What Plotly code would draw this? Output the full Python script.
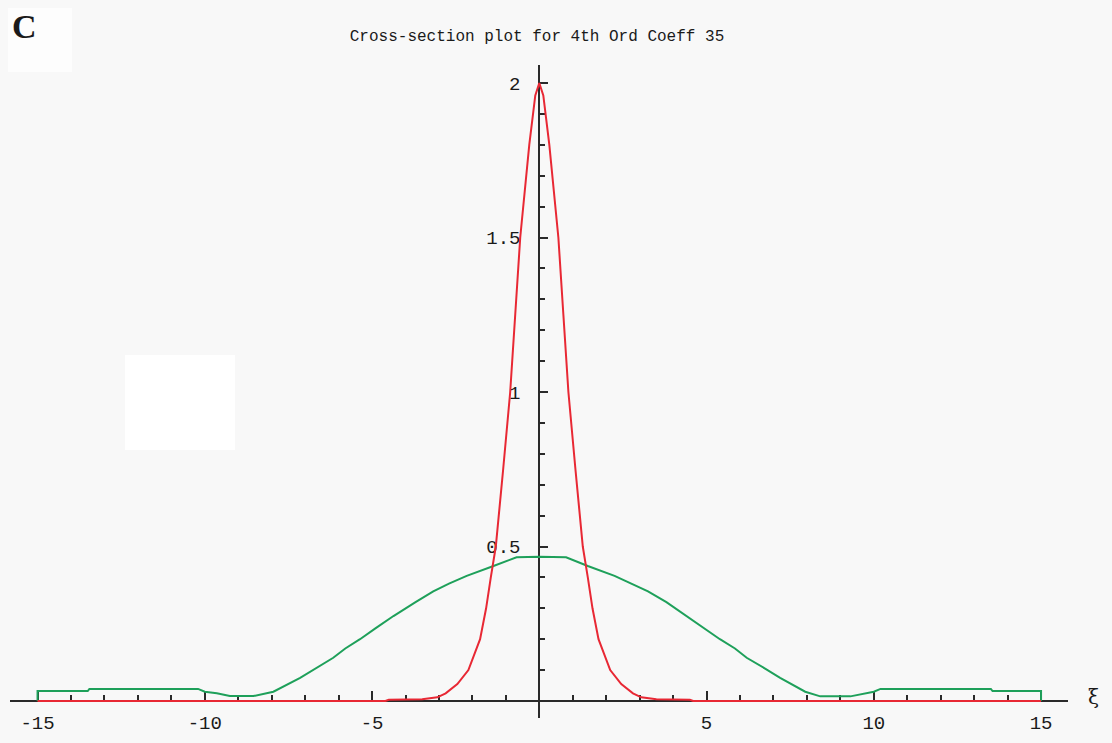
import plotly.graph_objects as go

W, H = 1112, 743

# ---- data ----
red_x = [-15, -4.6, -4.5, -3.5, -3.05, -2.8, -2.45, -2.12, -1.77, -1.59, -1.45, -1.3, -1.08,
         -0.87, -0.72, -0.57, -0.3, -0.12, 0, 0.12, 0.3, 0.57, 0.72, 0.87, 1.08, 1.3, 1.45,
         1.59, 1.77, 2.12, 2.45, 2.8, 3.05, 3.5, 4.5, 4.6, 15]
red_y = [0, 0, 0.004, 0.006, 0.012, 0.025, 0.055, 0.1, 0.2, 0.3, 0.4, 0.5, 0.75,
         1.0, 1.25, 1.5, 1.8, 1.96, 2.0, 1.96, 1.8, 1.5, 1.25, 1.0, 0.75, 0.5, 0.4,
         0.3, 0.2, 0.1, 0.055, 0.025, 0.012, 0.006, 0.004, 0, 0]

green_x = [-15, -15, -13.5, -13.45, -10.2, -10.0, -9.64, -9.25, -8.55, -7.95, -7.15, -6.7,
           -6.16, -5.8, -5.36, -4.9, -4.36, -3.7, -3.17, -2.7, -2.17, -1.37, -0.68, 0,
           0.8, 1.45, 2.25, 2.75, 3.25, 3.8, 4.4, 4.95, 5.4, 5.85, 6.2, 6.75, 7.2, 7.95,
           8.4, 9.3, 9.7, 10.0, 10.2, 13.5, 13.55, 15, 15]
green_y = [0, 0.032, 0.032, 0.039, 0.039, 0.03, 0.025, 0.016, 0.016, 0.03, 0.075, 0.105,
           0.14, 0.17, 0.2, 0.235, 0.275, 0.32, 0.355, 0.38, 0.405, 0.437, 0.465, 0.467,
           0.465, 0.437, 0.405, 0.38, 0.355, 0.32, 0.275, 0.235, 0.2, 0.17, 0.14, 0.105,
           0.075, 0.03, 0.015, 0.015, 0.025, 0.03, 0.039, 0.039, 0.032, 0.032, 0]

x_tickvals = [-15, -10, -5, 5, 10, 15]
x_ticktext = ["-15", "-10", "-5", "5", "10", "15"]
y_tickvals = [0.5, 1, 1.5, 2]
y_ticktext = ["0.5", "1", "1.5", "2"]

title_text = "Cross-section plot for 4th Ord Coeff 35"
panel_label = "C"
x_label = "ξ"

# ---- pixel geometry ----
x0_px, x_scale = 539.3, 33.45
y0_px, y_scale = 701.0, 309.0
xl_px, xr_px = 10, 1068
yt_px, yb_px = 65, 718

bg = "#f8f8f8"
axc = "#2a2a2a"
tickfont = dict(family="Liberation Mono", size=19, color="#1a1a1a")

fig = go.Figure()
fig.add_trace(go.Scatter(x=green_x, y=green_y, mode="lines",
                         line=dict(color="rgb(30,160,90)", width=2), showlegend=False,
                         hoverinfo="skip"))
fig.add_trace(go.Scatter(x=red_x, y=red_y, mode="lines",
                         line=dict(color="rgb(232,40,52)", width=2), showlegend=False,
                         hoverinfo="skip"))

fig.update_layout(
    width=W, height=H, margin=dict(l=0, r=0, t=0, b=0),
    paper_bgcolor=bg, plot_bgcolor=bg,
    title=dict(text=title_text, x=537 / W, y=1 - 35 / H, xref="paper", yref="paper",
               xanchor="center", yanchor="middle",
               font=dict(family="Liberation Mono", size=16, color="#1a1a1a")),
    xaxis=dict(
        domain=[xl_px / W, xr_px / W],
        range=[(xl_px - x0_px) / x_scale, (xr_px - x0_px) / x_scale],
        anchor="free", position=(H - y0_px) / H,
        showgrid=False, zeroline=False, showline=True, linecolor=axc, linewidth=2,
        ticks="inside", ticklen=9, tickwidth=2, tickcolor=axc,
        tickmode="array", tickvals=x_tickvals, ticktext=x_ticktext,
        tickfont=tickfont, ticklabelstandoff=4,
        minor=dict(tickmode="linear", tick0=0, dtick=1, ticks="inside", ticklen=5,
                   tickwidth=2, tickcolor=axc, showgrid=False),
        layer="below traces", fixedrange=True,
    ),
    yaxis=dict(
        domain=[(H - yb_px) / H, (H - yt_px) / H],
        range=[(y0_px - yb_px) / y_scale, (y0_px - yt_px) / y_scale],
        anchor="free", position=x0_px / W,
        showgrid=False, zeroline=False, showline=True, linecolor=axc, linewidth=2,
        ticks="inside", ticklen=8, tickwidth=2, tickcolor=axc,
        tickmode="array", tickvals=y_tickvals, ticktext=y_ticktext,
        tickfont=tickfont, ticklabelstandoff=14,
        minor=dict(tickmode="linear", tick0=0, dtick=0.1, ticks="inside", ticklen=5,
                   tickwidth=2, tickcolor=axc, showgrid=False),
        layer="below traces", fixedrange=True,
    ),
    shapes=[
        dict(type="rect", xref="paper", yref="paper", x0=8 / W, x1=72 / W,
             y0=1 - 72 / H, y1=1 - 8 / H, fillcolor="#fdfdfd", line=dict(width=0),
             layer="below"),
        dict(type="rect", xref="paper", yref="paper", x0=125 / W, x1=235 / W,
             y0=1 - 450 / H, y1=1 - 355 / H, fillcolor="#ffffff", line=dict(width=0),
             layer="below"),
    ],
    annotations=[
        dict(text="<b>" + panel_label + "</b>", xref="paper", yref="paper",
             x=24 / W, y=1 - 26 / H,
             xanchor="center", yanchor="middle", showarrow=False,
             font=dict(family="Liberation Serif", size=34, color="#1a1a1a")),
        dict(text=x_label, xref="paper", yref="paper", x=1093 / W, y=1 - 697 / H,
             xanchor="center", yanchor="middle", showarrow=False,
             font=dict(family="DejaVu Serif", size=20, color="#1a1a1a")),
    ],
)

fig.write_html("out.html")
